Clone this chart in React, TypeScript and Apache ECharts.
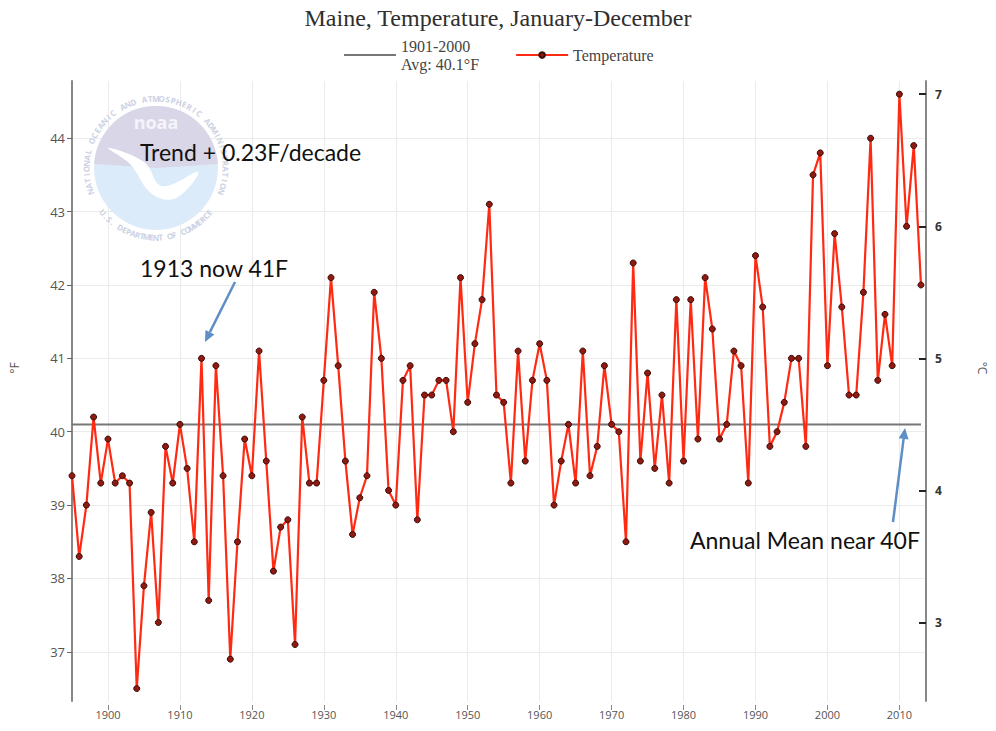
import React, { useEffect, useRef } from "react";
import * as echarts from "echarts";

// ---------- data ----------
const START_YEAR = 1895;
const temperatureF: number[] = [
  39.4, 38.3, 39.0, 40.2, 39.3, // 1895-1899
  39.9, 39.3, 39.4, 39.3, 36.5, 37.9, 38.9, 37.4, 39.8, 39.3, // 1900s
  40.1, 39.5, 38.5, 41.0, 37.7, 40.9, 39.4, 36.9, 38.5, 39.9, // 1910s
  39.4, 41.1, 39.6, 38.1, 38.7, 38.8, 37.1, 40.2, 39.3, 39.3, // 1920s
  40.7, 42.1, 40.9, 39.6, 38.6, 39.1, 39.4, 41.9, 41.0, 39.2, // 1930s
  39.0, 40.7, 40.9, 38.8, 40.5, 40.5, 40.7, 40.7, 40.0, 42.1, // 1940s
  40.4, 41.2, 41.8, 43.1, 40.5, 40.4, 39.3, 41.1, 39.6, 40.7, // 1950s
  41.2, 40.7, 39.0, 39.6, 40.1, 39.3, 41.1, 39.4, 39.8, 40.9, // 1960s
  40.1, 40.0, 38.5, 42.3, 39.6, 40.8, 39.5, 40.5, 39.3, 41.8, // 1970s
  39.6, 41.8, 39.9, 42.1, 41.4, 39.9, 40.1, 41.1, 40.9, 39.3, // 1980s
  42.4, 41.7, 39.8, 40.0, 40.4, 41.0, 41.0, 39.8, 43.5, 43.8, // 1990s
  40.9, 42.7, 41.7, 40.5, 40.5, 41.9, 44.0, 40.7, 41.6, 40.9, // 2000s
  44.6, 42.8, 43.9, 42.0, // 2010-2013
];
const years: number[] = temperatureF.map((_, i) => START_YEAR + i);

const AVG_F = 40.1;
const avgYears = [1895, 2013];
const fTicks = [37, 38, 39, 40, 41, 42, 43, 44];
const cTicks = [3, 4, 5, 6, 7];
const yearTicks = [1900, 1910, 1920, 1930, 1940, 1950, 1960, 1970, 1980, 1990, 2000, 2010];

const F_MIN = 36.33;
const F_MAX = 44.78;
const C_MIN = (F_MIN - 32) / 1.8;
const C_MAX = (F_MAX - 32) / 1.8;
const X_MIN = 1895;
const X_MAX = 2013.7;

const TITLE = "Maine, Temperature, January-December";
const AVG_NAME = "1901-2000\nAvg: 40.1°F";
const SERIES_NAME = "Temperature";
const NOTE_TREND = "Trend + 0.23F/decade";
const NOTE_1913 = "1913 now 41F";
const NOTE_MEAN = "Annual Mean near 40F";
const RING_TOP = "NATIONAL OCEANIC AND ATMOSPHERIC ADMINISTRATION";
const RING_BOTTOM = "U.S. DEPARTMENT OF COMMERCE";

// ---------- helpers ----------
const ARROW_COLOR = "#5d8fc6";
function arrow(x1: number, y1: number, x2: number, y2: number) {
  const ang = Math.atan2(y2 - y1, x2 - x1);
  const len = 11;
  const hw = 5;
  const bx = x2 - len * Math.cos(ang);
  const by = y2 - len * Math.sin(ang);
  const px = -Math.sin(ang) * hw;
  const py = Math.cos(ang) * hw;
  return [
    {
      type: "line",
      shape: { x1, y1, x2: bx, y2: by },
      style: { stroke: ARROW_COLOR, lineWidth: 2.5 },
      z: 10,
    },
    {
      type: "polygon",
      shape: { points: [[x2, y2], [bx + px, by + py], [bx - px, by - py]] },
      style: { fill: ARROW_COLOR },
      z: 10,
    },
  ];
}

function ringText(
  text: string,
  cx: number,
  cy: number,
  r: number,
  startDeg: number,
  endDeg: number,
  top: boolean
) {
  const n = text.length;
  const els: any[] = [];
  for (let i = 0; i < n; i++) {
    const t = n === 1 ? 0 : i / (n - 1);
    const deg = startDeg + (endDeg - startDeg) * t;
    const th = (deg * Math.PI) / 180;
    const x = cx + r * Math.cos(th);
    const y = cy + r * Math.sin(th);
    const phi = top ? th + Math.PI / 2 : th - Math.PI / 2;
    els.push({
      type: "text",
      x,
      y,
      rotation: -phi,
      style: {
        text: text[i],
        fill: "#cdd1e3",
        font: "bold 8px 'Open Sans', sans-serif",
        textAlign: "center",
        textVerticalAlign: "middle",
        align: "center",
        verticalAlign: "middle",
      },
      z: 1,
    });
  }
  return els;
}

function noaaLogo() {
  const cx = 156;
  const cy = 168;
  const r = 62;
  return {
    type: "group",
    z: 1,
    silent: true,
    children: [
      { type: "circle", shape: { cx, cy, r }, style: { fill: "#dcebf9" }, z: 1 },
      {
        type: "sector",
        shape: { cx, cy, r, r0: 0, startAngle: Math.PI * 1.02, endAngle: Math.PI * 1.98, clockwise: true },
        style: { fill: "#d9d6e7" },
        z: 1,
      },
      {
        type: "polygon",
        shape: {
          points: [
            [cx - 48, cy - 20],
            [cx - 12, cy - 6],
            [cx + 6, cy + 18],
            [cx + 42, cy + 4],
            [cx + 20, cy + 30],
            [cx - 4, cy + 26],
            [cx - 26, cy - 4],
          ],
          smooth: 0.4,
        },
        style: { fill: "#ffffff" },
        z: 1,
      },
      {
        type: "text",
        x: cx,
        y: cy - 46,
        style: {
          text: "noaa",
          fill: "#f4f4fa",
          font: "bold 18px 'Open Sans', sans-serif",
          textAlign: "center",
          textVerticalAlign: "middle",
          align: "center",
          verticalAlign: "middle",
        },
        z: 1,
      },
      ...ringText(RING_TOP, cx, cy, 70, 160, 380, true),
      ...ringText(RING_BOTTOM, cx, cy, 69, 140, 40, false),
    ],
  };
}

function noteText(text: string, x: number, y: number) {
  return {
    type: "text",
    x,
    y,
    style: {
      text,
      fill: "#111",
      font: "23px Lato, sans-serif",
      textAlign: "left",
      textVerticalAlign: "middle",
      align: "left",
      verticalAlign: "middle",
    },
    z: 10,
  };
}

export default function App() {
  const ref = useRef<HTMLDivElement>(null);

  useEffect(() => {
    if (!ref.current) return;
    const chart = echarts.init(ref.current, undefined, { renderer: "svg" });

    const option: any = {
      animation: false,
      backgroundColor: "#ffffff",
      title: {
        text: TITLE,
        left: "center",
        top: 1,
        textStyle: {
          fontFamily: "'Liberation Serif', serif",
          fontSize: 24,
          fontWeight: "normal",
          color: "#2f2f2f",
        },
      },
      legend: {
        left: 338,
        top: 32,
        itemWidth: 52,
        itemHeight: 7,
        itemGap: 36,
        textStyle: {
          fontFamily: "'Liberation Serif', serif",
          fontSize: 16,
          color: "#444",
          lineHeight: 18,
        },
        data: [
          { name: AVG_NAME, itemStyle: { opacity: 0 } },
          { name: SERIES_NAME },
        ],
      },
      grid: { left: 70, right: 66, top: 81, bottom: 30 },
      xAxis: {
        type: "value",
        min: X_MIN,
        max: X_MAX,
        offset: 4,
        axisLine: { show: false },
        axisTick: { show: true, length: 5, customValues: yearTicks, lineStyle: { color: "#888" } },
        axisLabel: {
          customValues: yearTicks,
          color: "#555",
          fontSize: 11,
          fontFamily: "'Open Sans', sans-serif",
          margin: 4,
          formatter: (v: number) => String(v),
        },
        splitLine: { show: true, lineStyle: { color: "#ebebeb", width: 1 } },
      },
      yAxis: [
        {
          type: "value",
          min: F_MIN,
          max: F_MAX,
          position: "left",
          name: "°F",
          nameLocation: "middle",
          nameGap: 52,
          nameRotate: 90,
          nameTextStyle: {
            color: "#555",
            fontSize: 12,
            fontFamily: "'Open Sans', sans-serif",
            padding: [0, 0, 0, 46],
          },
          axisLine: { show: true, lineStyle: { color: "#888", width: 2 } },
          axisTick: { show: true, length: 5, customValues: fTicks, lineStyle: { color: "#666" } },
          axisLabel: {
            customValues: fTicks,
            color: "#555",
            fontSize: 13,
            fontFamily: "'Open Sans', sans-serif",
            margin: 7,
          },
          splitLine: { show: true, lineStyle: { color: "#ebebeb", width: 1 } },
        },
        {
          type: "value",
          min: C_MIN,
          max: C_MAX,
          position: "right",
          name: "°C",
          nameLocation: "middle",
          nameGap: 50,
          nameRotate: -90,
          nameTextStyle: {
            color: "#555",
            fontSize: 12,
            fontFamily: "'Open Sans', sans-serif",
            padding: [0, 46, 0, 0],
          },
          axisLine: { show: true, lineStyle: { color: "#888", width: 2 } },
          axisTick: { show: true, inside: true, length: 7, customValues: cTicks, lineStyle: { color: "#222", width: 2 } },
          axisLabel: {
            customValues: cTicks,
            color: "#333",
            fontSize: 12,
            fontWeight: "bold",
            fontFamily: "'Open Sans', sans-serif",
            margin: 9,
          },
          splitLine: { show: false },
        },
      ],
      series: [
        {
          name: AVG_NAME,
          type: "line",
          yAxisIndex: 0,
          data: avgYears.map((y) => [y, AVG_F]),
          symbol: "none",
          lineStyle: { color: "#777", width: 2 },
          itemStyle: { color: "#777" },
          silent: true,
          z: 2,
        },
        {
          name: SERIES_NAME,
          type: "line",
          yAxisIndex: 0,
          data: years.map((y, i) => [y, temperatureF[i]]),
          symbol: "circle",
          symbolSize: 6,
          showAllSymbol: true,
          lineStyle: { color: "#ff2a12", width: 2.2 },
          itemStyle: { color: "#8e1a12", borderColor: "#3a0a06", borderWidth: 1 },
          z: 3,
        },
      ],
      graphic: [
        noaaLogo(),
        noteText(NOTE_TREND, 140, 152),
        noteText(NOTE_1913, 140, 268),
        noteText(NOTE_MEAN, 690, 540),
        ...arrow(235, 282, 205, 342),
        ...arrow(893, 522, 905, 428),
      ],
    };

    chart.setOption(option);
    return () => chart.dispose();
  }, []);

  return (
    <div
      ref={ref}
      style={{ position: "fixed", left: 0, top: 0, width: 996, height: 731, background: "#fff" }}
    />
  );
}
